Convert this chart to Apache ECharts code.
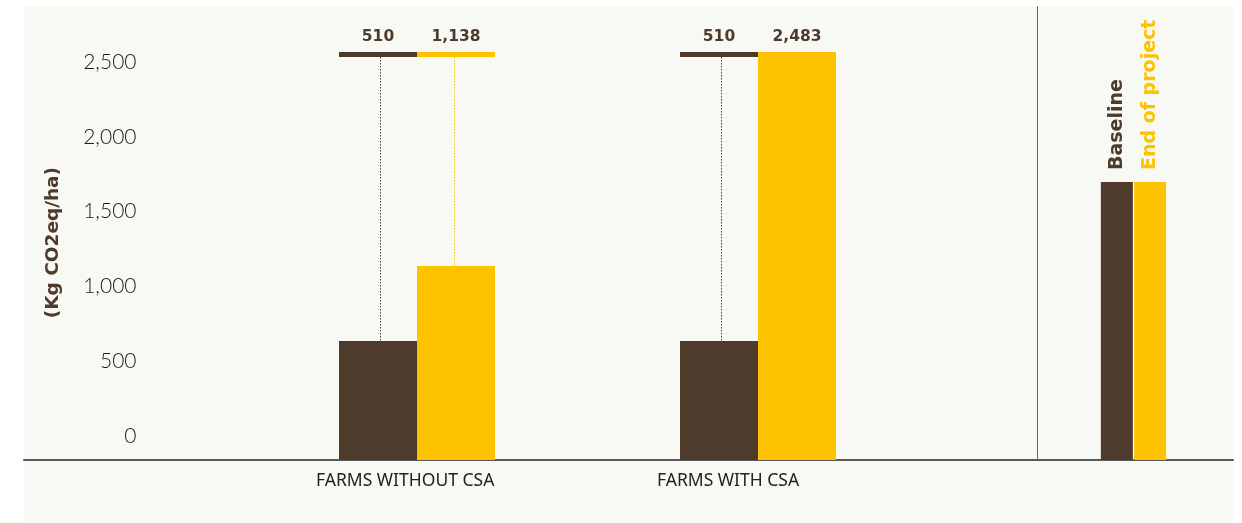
<!DOCTYPE html>
<html>
<head>
<meta charset="utf-8">
<script src="https://cdn.jsdelivr.net/npm/echarts@6/dist/echarts.min.js"></script>
<style>
html,body{margin:0;padding:0;background:#ffffff;}
#chart{width:1242px;height:523px;}
</style>
</head>
<body>
<div id="chart"></div>
<script>
// ---- data ----
const categories = ['FARMS WITHOUT CSA', 'FARMS WITH CSA'];
const seriesNames = ['Baseline', 'End of project'];
// drawn bar heights (as they appear against the axis)
const baselineBars = [795, 795];
const endBars = [1297, 2727];
// printed values above the bars
const baselineLabels = ['510', '510'];
const endLabels = ['1,138', '2,483'];
// level of the capping line above each group
const capLevels = [2727, 2727];
// legend key bars
const keyHeights = [1858];
const yMin = 0, yMax = 3000, yInterval = 500;

const BROWN = '#4e3b2c';
const YELLOW = '#fdc300';

// layout
const PX_PER_UNIT = 374 / 2500;
const AXIS_Y = 460;
const mainTop = AXIS_Y - yMax * PX_PER_UNIT;
const keyTop = 6;
const keyMax = (AXIS_Y - keyTop) / PX_PER_UNIT;
const BAR_W = 78;

const chart = echarts.init(document.getElementById('chart'), null, {renderer: 'canvas'});

const annotData = categories.map((c, i) => [i, capLevels[i], baselineBars[i], endBars[i]]);

const option = {
  backgroundColor: '#ffffff',
  animation: false,
  graphic: [{
    type: 'rect', z: -10, silent: true,
    shape: {x: 24, y: 6, width: 1209, height: 517},
    style: {fill: '#f8f8f4'}
  }],
  grid: [
    {left: 246.5, right: 313.5, top: mainTop, bottom: 523 - AXIS_Y},
    {left: 1037, right: 12, top: keyTop, bottom: 523 - AXIS_Y},
    {left: 24, right: 9, top: keyTop, bottom: 523 - AXIS_Y}
  ],
  xAxis: [
    {
      gridIndex: 0, type: 'category', data: categories,
      axisLine: {show: false}, axisTick: {show: false},
      axisLabel: {
        interval: 0, margin: 12, align: 'left', padding: [0, 0, 0, -101],
        fontFamily: 'Noto Sans', fontSize: 17.5, color: '#222222'
      }
    },
    {
      gridIndex: 1, type: 'category', data: [''],
      axisLine: {show: false}, axisTick: {show: false}, axisLabel: {show: false}
    },
    {
      gridIndex: 2, type: 'value', min: 0, max: 1,
      axisLine: {show: true, lineStyle: {color: '#58585a', width: 2}},
      axisTick: {show: false}, axisLabel: {show: false}, splitLine: {show: false}
    }
  ],
  yAxis: [
    {
      gridIndex: 0, type: 'value', min: yMin, max: yMax, interval: yInterval,
      name: '(Kg CO2eq/ha)', nameLocation: 'middle', nameGap: 184,
      nameTextStyle: {
        fontFamily: 'DejaVu Sans', fontWeight: 'bold', fontSize: 18.5, color: BROWN,
        padding: [0, 14, 0, 0]
      },
      axisLine: {show: false}, axisTick: {show: false}, splitLine: {show: false},
      axisLabel: {
        margin: 110, verticalAlign: 'middle',
        formatter: v => v > 2500 ? '' : '{v|' + echarts.format.addCommas(v) + '}\n{s| }',
        rich: {
          v: {fontFamily: 'Lato', fontWeight: 300, fontSize: 21, lineHeight: 24, color: '#1a1a1a', align: 'right'},
          s: {fontSize: 8, lineHeight: 48, align: 'right'}
        }
      }
    },
    {
      gridIndex: 1, type: 'value', min: 0, max: keyMax,
      axisLine: {show: true, lineStyle: {color: BROWN, width: 1, type: [1, 1]}},
      axisTick: {show: false}, axisLabel: {show: false}, splitLine: {show: false}
    },
    {
      gridIndex: 2, type: 'value', min: 0, max: 1, show: false
    }
  ],
  series: [
    {
      name: seriesNames[0], type: 'bar', xAxisIndex: 0, yAxisIndex: 0,
      data: baselineBars, barWidth: BAR_W, barGap: '0%',
      itemStyle: {color: BROWN}
    },
    {
      name: seriesNames[1], type: 'bar', xAxisIndex: 0, yAxisIndex: 0,
      data: endBars, barWidth: BAR_W, barGap: '0%',
      itemStyle: {color: YELLOW}
    },
    {
      name: seriesNames[0] + ' key', type: 'bar', xAxisIndex: 1, yAxisIndex: 1,
      data: keyHeights, barWidth: 32, barGap: '4%',
      itemStyle: {color: BROWN},
      label: {
        show: true, position: 'top', distance: 12, rotate: 90,
        align: 'left', verticalAlign: 'middle',
        formatter: seriesNames[0],
        fontFamily: 'DejaVu Sans', fontWeight: 'bold', fontSize: 19, color: BROWN
      }
    },
    {
      name: seriesNames[1] + ' key', type: 'bar', xAxisIndex: 1, yAxisIndex: 1,
      data: keyHeights, barWidth: 32, barGap: '4%',
      itemStyle: {color: YELLOW},
      label: {
        show: true, position: 'top', distance: 12, rotate: 90,
        align: 'left', verticalAlign: 'middle',
        formatter: seriesNames[1],
        fontFamily: 'DejaVu Sans', fontWeight: 'bold', fontSize: 19, color: YELLOW
      }
    },
    {
      name: 'caps', type: 'custom', xAxisIndex: 0, yAxisIndex: 0, z: 5,
      data: annotData,
      encode: {x: 0, y: 1},
      renderItem: function (params, api) {
        const i = api.value(0);
        const top = api.coord([i, api.value(1)]);
        const cx = top[0], yTop = top[1];
        const yB = api.coord([i, api.value(2)])[1];
        const yE = api.coord([i, api.value(3)])[1];
        const capH = 5;
        const children = [
          {type: 'rect', shape: {x: cx - BAR_W, y: yTop, width: BAR_W, height: capH}, style: {fill: BROWN}},
          {type: 'rect', shape: {x: cx, y: yTop, width: BAR_W, height: capH}, style: {fill: YELLOW}},
          {type: 'text', style: {
            x: cx - BAR_W / 2, y: yTop - 15, text: baselineLabels[params.dataIndex],
            textAlign: 'center', textVerticalAlign: 'middle',
            font: 'bold 15.5px "DejaVu Sans"', fill: BROWN}},
          {type: 'text', style: {
            x: cx + BAR_W / 2, y: yTop - 15, text: endLabels[params.dataIndex],
            textAlign: 'center', textVerticalAlign: 'middle',
            font: 'bold 15.5px "DejaVu Sans"', fill: BROWN}}
        ];
        if (yB - (yTop + capH) > 1) {
          children.push({type: 'line', shape: {x1: cx - 36.5, y1: yTop + capH, x2: cx - 36.5, y2: yB},
            style: {stroke: BROWN, lineWidth: 1, lineDash: [1.5, 1.5]}});
        }
        if (yE - (yTop + capH) > 1) {
          children.push({type: 'line', shape: {x1: cx + 37.5, y1: yTop + capH, x2: cx + 37.5, y2: yE},
            style: {stroke: YELLOW, lineWidth: 1, lineDash: [1.5, 1.5]}});
        }
        return {type: 'group', children: children};
      }
    }
  ]
};
chart.setOption(option);
</script>
</body>
</html>
